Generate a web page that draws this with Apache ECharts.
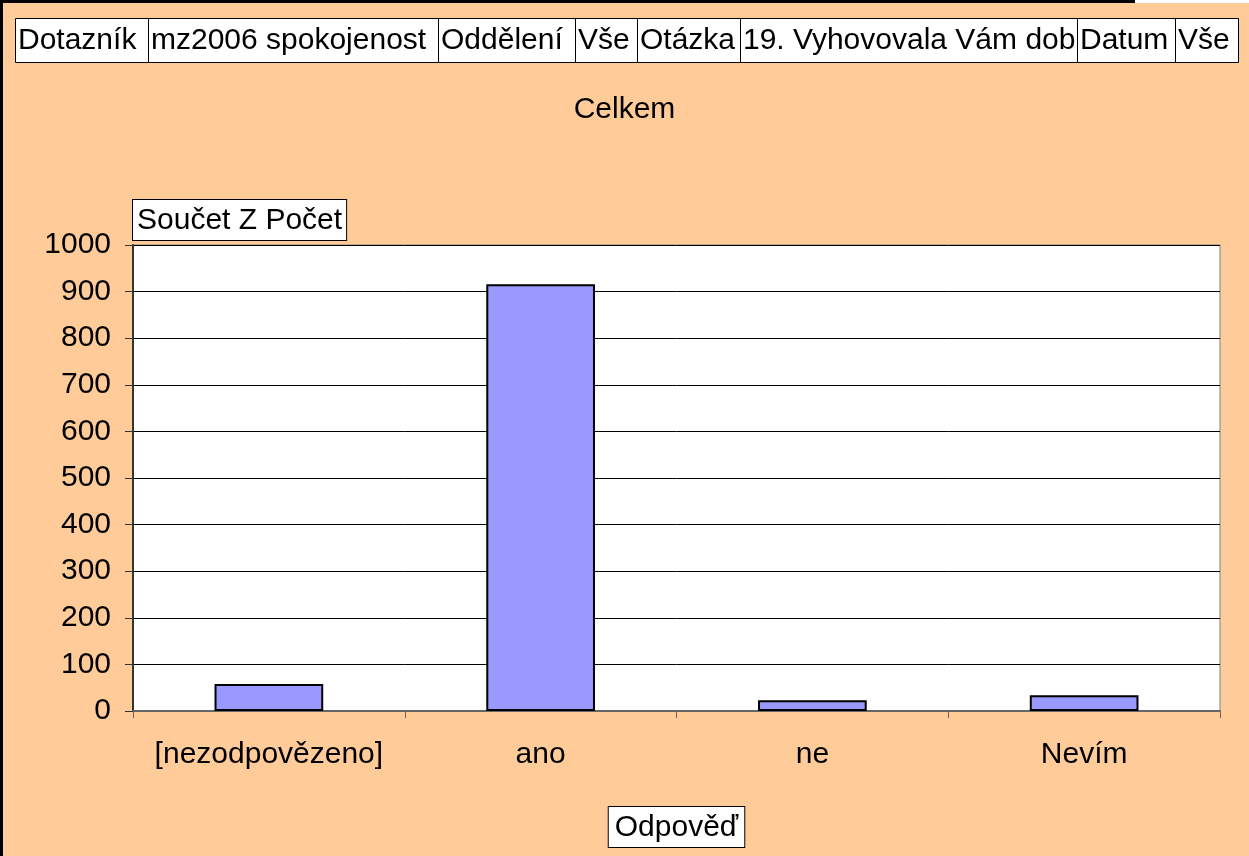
<!DOCTYPE html>
<html>
<head>
<meta charset="utf-8">
<script src="https://cdn.jsdelivr.net/npm/echarts@6/dist/echarts.min.js"></script>
<style>
html,body{margin:0;padding:0;background:#FFCC99;}
#chart{width:1249px;height:856px;}
</style>
</head>
<body>
<div id="chart"></div>
<script>
const categories = ['[nezodpovězeno]', 'ano', 'ne', 'Nevím'];
const values = [58, 916, 23, 34];
const yTicks = [0, 100, 200, 300, 400, 500, 600, 700, 800, 900, 1000];
const headerLabels = ['Dotazník', 'mz2006 spokojenost', 'Oddělení', 'Vše', 'Otázka', '19. Vyhovovala Vám dob', 'Datum', 'Vše'];
const headerEdges = [15, 148, 438, 575, 637, 740, 1077, 1175, 1238];

const FONT = '"Liberation Sans", Arial, Helvetica, sans-serif';
const FS = 30;
const chart = echarts.init(document.getElementById('chart'), null, {renderer: 'canvas'});

const graphics = [
  {type: 'rect', shape: {x: 0, y: 0, width: 1135, height: 3}, style: {fill: '#000'}, z: 50},
  {type: 'rect', shape: {x: 1135, y: 0, width: 114, height: 3}, style: {fill: '#fff'}, z: 50},
  {type: 'rect', shape: {x: 0, y: 0, width: 3, height: 856}, style: {fill: '#000'}, z: 50}
];
headerLabels.forEach((t, i) => {
  const x0 = headerEdges[i], x1 = headerEdges[i + 1];
  graphics.push({
    type: 'rect', shape: {x: x0 + 0.5, y: 18.5, width: x1 - x0, height: 44},
    style: {fill: '#fff', stroke: '#000', lineWidth: 1}, z: 10 + 2 * i
  });
  graphics.push({
    type: 'text', x: x0 + 3, y: 41,
    style: {text: t, font: FS + 'px ' + FONT, fill: '#000', verticalAlign: 'middle', align: 'left'},
    z: 11 + 2 * i
  });
});

chart.setOption({
  backgroundColor: '#FFCC99',
  animation: false,
  title: {
    text: 'Celkem', left: 'center', top: 90,
    textStyle: {fontFamily: FONT, fontSize: FS, fontWeight: 'normal', color: '#000'}
  },
  grid: {left: 133, right: 29, top: 245, bottom: 145, show: true, backgroundColor: '#fff', borderColor: '#808080', borderWidth: 1},
  xAxis: {
    type: 'category', data: categories,
    name: 'Odpověď', nameLocation: 'middle', nameGap: 96,
    nameTextStyle: {fontFamily: FONT, fontSize: FS, lineHeight: 33, color: '#000', backgroundColor: '#fff', borderColor: '#000', borderWidth: 1, padding: [4, 6, 3, 6], verticalAlign: 'top'},
    axisLine: {lineStyle: {color: '#666', width: 2}},
    axisTick: {show: true, length: 7, inside: false, interval: 0, lineStyle: {color: '#666', width: 1}},
    axisLabel: {fontFamily: FONT, fontSize: FS, color: '#000', margin: 29, interval: 0, hideOverlap: false},
    splitLine: {show: false}
  },
  yAxis: {
    type: 'value', min: 0, max: 1000, interval: 100,
    name: 'Součet Z Počet', nameLocation: 'end', nameGap: 5,
    nameTextStyle: {fontFamily: FONT, fontSize: FS, lineHeight: 33, color: '#000', backgroundColor: '#fff', borderColor: '#000', borderWidth: 1, padding: [4, 4, 3, 4], align: 'left', verticalAlign: 'bottom'},
    axisLine: {show: true, lineStyle: {color: '#333', width: 2}},
    axisTick: {show: true, length: 8, lineStyle: {color: '#333', width: 1}},
    axisLabel: {fontFamily: FONT, fontSize: FS, color: '#000', margin: 22,
      formatter: v => yTicks.includes(v) ? String(v) : ''},
    splitLine: {show: true, lineStyle: {color: '#000', width: 1}}
  },
  series: [{
    type: 'bar', data: values, barWidth: '40%',
    itemStyle: {color: '#9999FF', borderColor: '#000', borderWidth: 2}
  }],
  graphic: graphics
});
</script>
</body>
</html>
